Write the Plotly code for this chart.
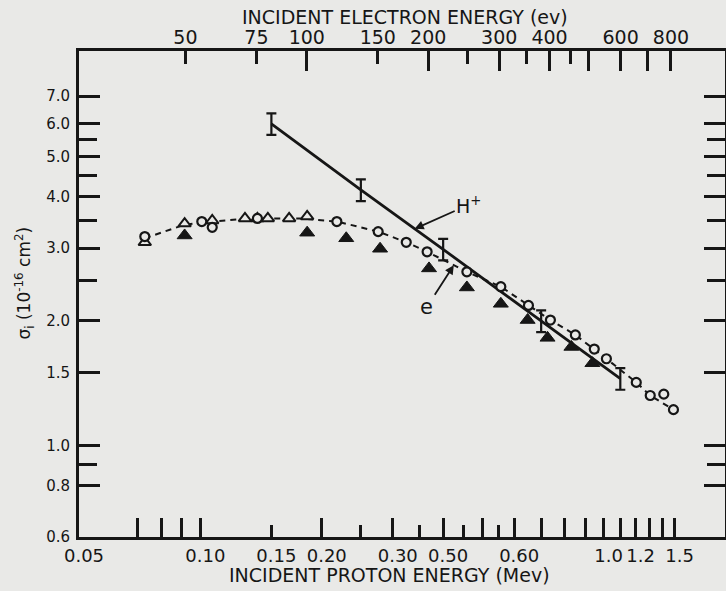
import numpy as np
import plotly.graph_objects as go

# ---------------- data ----------------
# proton energy in MeV, cross section in 1e-16 cm^2
e_circle_E = [0.0728, 0.1008, 0.107, 0.1385, 0.218, 0.276, 0.324, 0.365, 0.458, 0.556,
              0.651, 0.738, 0.851, 0.948, 1.016, 1.205, 1.305, 1.41, 1.49]
e_circle_s = [3.20, 3.48, 3.37, 3.54, 3.48, 3.29, 3.10, 2.94, 2.63, 2.42,
              2.18, 2.01, 1.85, 1.71, 1.62, 1.42, 1.32, 1.33, 1.22]

open_tri_E = [0.0728, 0.0914, 0.107, 0.129, 0.1385, 0.147, 0.166, 0.184]
open_tri_s = [3.10, 3.44, 3.50, 3.54, 3.54, 3.54, 3.54, 3.58]

filled_tri_E = [0.0914, 0.184, 0.230, 0.279, 0.369, 0.458, 0.556, 0.648, 0.726, 0.832, 0.938]
filled_tri_s = [3.22, 3.27, 3.17, 2.99, 2.68, 2.41, 2.20, 2.01, 1.82, 1.73, 1.58]

# dashed curve drawn through the electron data
e_curve_E = [0.0728, 0.0914, 0.107, 0.132, 0.176, 0.218, 0.276, 0.324, 0.365, 0.458,
             0.556, 0.651, 0.738, 0.851, 0.948, 1.016, 1.205, 1.305, 1.49]
e_curve_s = [3.17, 3.42, 3.48, 3.54, 3.54, 3.48, 3.29, 3.10, 2.94, 2.63,
             2.42, 2.18, 2.01, 1.85, 1.71, 1.62, 1.42, 1.32, 1.22]

# H+ line with error bars
hp_E = [0.15, 0.25, 0.40, 0.70, 1.10]
hp_s = [6.0, 4.15, 2.98, 2.0, 1.45]
hp_err_pct = 6.0

# label arrow targets (proton energy, MeV)
hp_label_E = 0.34
e_label_E = 0.425

# ticks
p_tick_vals = [0.05, 0.10, 0.15, 0.20, 0.30, 0.40, 0.60, 1.0, 1.2, 1.5]
p_tick_text = ["0.05", "0.10", "0.15", "0.20", "0.30", "0.50", "0.60", "1.0", "1.2", "1.5"]
p_long_ticks = [0.07, 0.08, 0.09, 0.10, 0.20, 0.30, 0.40, 0.50, 0.60, 0.70, 0.80, 0.90,
                1.0, 1.1, 1.2, 1.3, 1.4, 1.5]
p_short_ticks = [0.25, 0.35, 0.45, 0.55]

el_tick_vals = [50, 75, 100, 150, 200, 300, 400, 600, 800]
el_tick_text = ["50", "75", "100", "150", "200", "300", "400", "600", "800"]
el_long_ticks = [100, 200, 300, 400, 500, 600, 700, 800]
el_short_ticks = [250, 350, 450]

y_tick_vals = [0.6, 0.8, 1.0, 1.5, 2.0, 3.0, 4.0, 5.0, 6.0, 7.0]
y_tick_text = ["0.6", "0.8", "1.0", "1.5", "2.0", "3.0", "4.0", "5.0", "6.0", "7.0"]
y_minor_ticks = [0.9, 2.5, 3.5, 4.5, 5.5]

p_range = [0.05, 2.0]
y_range = [0.6, 9.0]
mass_ratio = 1836.15  # proton / electron

# ---------------- styling ----------------
INK = "#161616"
BG = "#e9e9e7"
FONT = "DejaVu Sans"

el_range = [p_range[0] * 1e6 / mass_ratio, p_range[1] * 1e6 / mass_ratio]

fig = go.Figure()

# dashed electron curve
fig.add_trace(go.Scatter(x=e_curve_E, y=e_curve_s, mode="lines",
                         line=dict(color=INK, width=2, dash="6px,5px"),
                         showlegend=False, hoverinfo="skip"))
# H+ solid line with error bars
fig.add_trace(go.Scatter(x=hp_E, y=hp_s, mode="lines",
                         line=dict(color=INK, width=2.8),
                         error_y=dict(type="percent", value=hp_err_pct, color=INK,
                                      thickness=2.2, width=5),
                         showlegend=False))
# markers
fig.add_trace(go.Scatter(x=filled_tri_E, y=filled_tri_s, mode="markers",
                         marker=dict(symbol="triangle-up", size=13, color=INK,
                                     line=dict(color=INK, width=1)),
                         showlegend=False))
fig.add_trace(go.Scatter(x=open_tri_E, y=open_tri_s, mode="markers",
                         marker=dict(symbol="triangle-up", size=11, color=BG,
                                     line=dict(color=INK, width=2)),
                         showlegend=False))
fig.add_trace(go.Scatter(x=e_circle_E, y=e_circle_s, mode="markers",
                         marker=dict(symbol="circle", size=9, color=BG,
                                     line=dict(color=INK, width=2.2)),
                         showlegend=False))

# dummy invisible traces so the overlaying axes are drawn
for ax_name, xs in (("x2", el_tick_vals), ("x3", p_long_ticks), ("x4", el_long_ticks)):
    fig.add_trace(go.Scatter(x=[xs[0]], y=[y_range[0] * 2], xaxis=ax_name, yaxis="y",
                             mode="markers", marker=dict(opacity=0, size=1),
                             showlegend=False, hoverinfo="skip"))

common_x = dict(type="log", showgrid=False, zeroline=False, ticks="inside", automargin=False,
                tickcolor=INK, tickwidth=2.5)

fig.update_layout(
    width=726, height=591,
    margin=dict(l=79, r=1, t=51, b=54, autoexpand=False),
    paper_bgcolor=BG, plot_bgcolor=BG,
    font=dict(family=FONT, color=INK),
    xaxis=dict(**common_x,
               range=[np.log10(p_range[0]), np.log10(p_range[1])],
               tickmode="array", tickvals=p_tick_vals, ticktext=p_tick_text,
               tickfont=dict(family=FONT, size=18, color=INK),
               ticklen=12, ticklabelshift=5, ticklabelstandoff=0,
               showline=True, linecolor=INK, linewidth=3,
               minor=dict(tickmode="array", tickvals=p_short_ticks, ticks="inside",
                          ticklen=12, tickwidth=2.5, tickcolor=INK, showgrid=False)),
    xaxis3=dict(**common_x, overlaying="x", side="bottom", anchor="y",
                range=[np.log10(p_range[0]), np.log10(p_range[1])],
                tickmode="array", tickvals=p_long_ticks, ticklen=19,
                showticklabels=False, showline=False),
    xaxis2=dict(**common_x,
                overlaying="x", side="top", anchor="y",
                range=[np.log10(el_range[0]), np.log10(el_range[1])],
                tickmode="array", tickvals=el_tick_vals, ticktext=el_tick_text,
                tickfont=dict(family=FONT, size=19, color=INK),
                ticklen=13, ticklabelstandoff=-4,
                showline=True, linecolor=INK, linewidth=3,
                minor=dict(tickmode="array", tickvals=el_short_ticks, ticks="inside",
                           ticklen=13, tickwidth=2.5, tickcolor=INK, showgrid=False)),
    xaxis4=dict(**common_x, overlaying="x", side="top", anchor="y",
                range=[np.log10(el_range[0]), np.log10(el_range[1])],
                tickmode="array", tickvals=el_long_ticks, ticklen=20,
                showticklabels=False, showline=False),
    yaxis=dict(type="log", range=[np.log10(y_range[0]), np.log10(y_range[1])],
               showgrid=False, zeroline=False, automargin=False,
               tickmode="array", tickvals=y_tick_vals, ticktext=y_tick_text,
               ticks="inside", ticklen=21, tickwidth=2.5, tickcolor=INK,
               tickfont=dict(family=FONT, size=15, color=INK), ticklabelstandoff=3,
               showline=True, linecolor=INK, linewidth=3, mirror="ticks",
               minor=dict(tickmode="array", tickvals=y_minor_ticks, ticks="inside",
                          ticklen=18, tickwidth=2.5, tickcolor=INK, showgrid=False)),
)

# axis titles
fig.add_annotation(text="INCIDENT ELECTRON ENERGY (ev)", xref="paper", yref="paper",
                   x=0.505, y=1.070, showarrow=False, xanchor="center", yanchor="middle",
                   font=dict(family=FONT, size=19, color=INK))
fig.add_annotation(text="INCIDENT PROTON ENERGY (Mev)", xref="paper", yref="paper",
                   x=0.48, y=-0.079, showarrow=False, xanchor="center", yanchor="middle",
                   font=dict(family=FONT, size=19, color=INK))
fig.add_annotation(text="σ<sub>i</sub> (10<sup>-16</sup> cm<sup>2</sup>)", xref="paper",
                   yref="paper", x=-0.084, y=0.523, showarrow=False, textangle=-90,
                   xanchor="center", yanchor="middle",
                   font=dict(family=FONT, size=17, color=INK))

# curve labels with arrows (log axes -> annotation coords in log10)
hp_label_s = 10 ** np.interp(np.log10(hp_label_E), np.log10(hp_E), np.log10(hp_s))
e_label_s = 10 ** np.interp(np.log10(e_label_E), np.log10(e_curve_E), np.log10(e_curve_s))
fig.add_annotation(text="H<sup>+</sup>", x=np.log10(hp_label_E), y=np.log10(hp_label_s),
                   xref="x", yref="y", showarrow=True, ax=54, ay=-24,
                   arrowhead=2, arrowsize=1, arrowwidth=1.8, arrowcolor=INK,
                   font=dict(family=FONT, size=19, color=INK))
fig.add_annotation(text="e", x=np.log10(e_label_E), y=np.log10(e_label_s),
                   xref="x", yref="y", showarrow=True, ax=-27, ay=42,
                   arrowhead=2, arrowsize=1, arrowwidth=1.8, arrowcolor=INK,
                   font=dict(family=FONT, size=21, color=INK))

fig.write_html("out.html",
               config={"displayModeBar": False},
               post_script="document.body.style.margin='0';"
                           "document.body.style.background='" + BG + "';")
